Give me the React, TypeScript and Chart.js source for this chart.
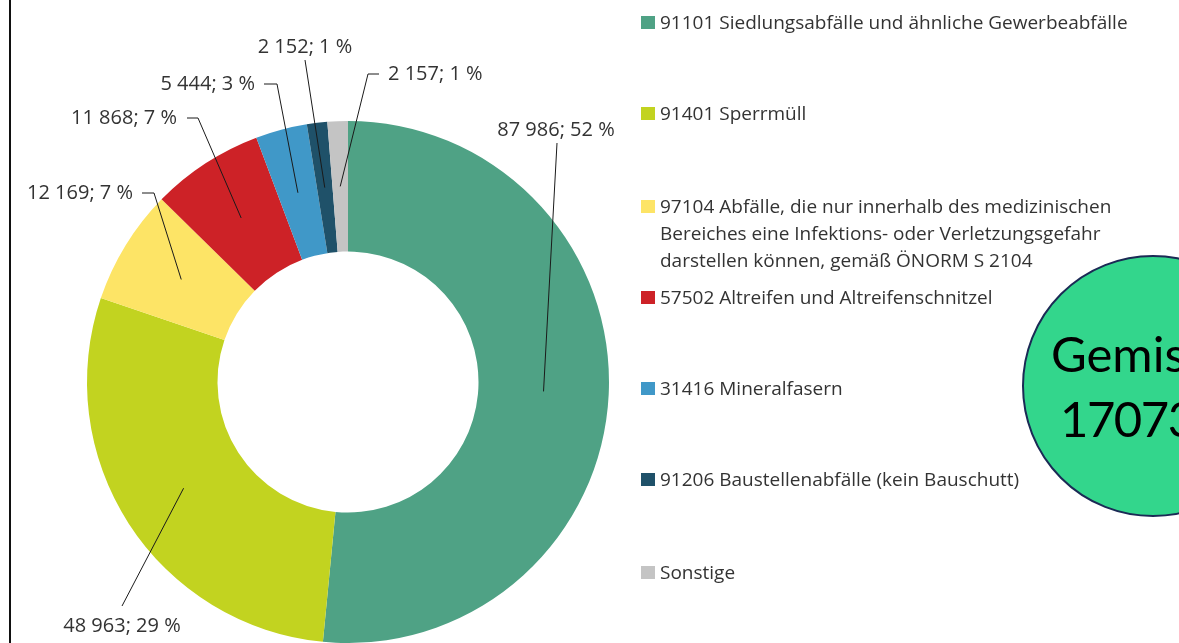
import React, { useEffect, useRef } from "react";
import { Chart, registerables } from "chart.js";

Chart.register(...registerables);

// ---- data ----
const legendLines: string[][] = [
  ["91101 Siedlungsabfälle und ähnliche Gewerbeabfälle"],
  ["91401 Sperrmüll"],
  [
    "97104 Abfälle, die nur innerhalb des medizinischen",
    "Bereiches eine Infektions- oder Verletzungsgefahr",
    "darstellen können, gemäß ÖNORM S 2104",
  ],
  ["57502 Altreifen und Altreifenschnitzel"],
  ["31416 Mineralfasern"],
  ["91206 Baustellenabfälle (kein Bauschutt)"],
  ["Sonstige"],
];
const categories = legendLines.map((l) => l.join(" "));
const values = [87986, 48963, 12169, 11868, 5444, 2152, 2157];
const colors = ["#4fa285", "#c2d320", "#fde466", "#cd2227", "#4098c8", "#1f5169", "#c4c4c4"];

const badgeLines = ["Gemisch", "170739"];

// ---- layout (label anchors & leader lines) ----
type LabelPos = { x: number; y: number; align: CanvasTextAlign; path: number[][] };
const labelLayout: LabelPos[] = [
  { x: 556, y: 130, align: "center", path: [[557, 143]] },
  { x: 122, y: 626, align: "center", path: [[122, 606]] },
  { x: 133, y: 193, align: "right", path: [[142, 193], [154, 193]] },
  { x: 177, y: 118, align: "right", path: [[187, 118], [198, 118]] },
  { x: 255, y: 84, align: "right", path: [[264, 84], [277, 84]] },
  { x: 305, y: 47, align: "center", path: [[305, 60]] },
  { x: 388, y: 74, align: "left", path: [[379, 74], [368, 74]] },
];
const legendY = [22, 113, 206, 297, 388, 479, 572];

const fmt = (v: number) => String(v).replace(/\B(?=(\d{3})+(?!\d))/g, " ");

const labelPlugin = {
  id: "leaderLabels",
  afterDatasetsDraw(chart: any) {
    const ctx = chart.ctx as CanvasRenderingContext2D;
    const meta = chart.getDatasetMeta(0);
    const data = chart.data.datasets[0].data as number[];
    const total = data.reduce((a, b) => a + b, 0);
    ctx.save();
    meta.data.forEach((arc: any, i: number) => {
      const lay = labelLayout[i];
      const p = arc.getCenterPoint();
      ctx.strokeStyle = "#1a1a1a";
      ctx.lineWidth = 1;
      ctx.beginPath();
      lay.path.forEach((pt, k) => {
        if (k === 0) ctx.moveTo(pt[0], pt[1]);
        else ctx.lineTo(pt[0], pt[1]);
      });
      ctx.lineTo(p.x, p.y);
      ctx.stroke();
      ctx.fillStyle = "#333333";
      ctx.font = "20px 'Open Sans'";
      ctx.textAlign = lay.align;
      ctx.textBaseline = "middle";
      const pct = Math.round((data[i] / total) * 100);
      ctx.fillText(`${fmt(data[i])}; ${pct} %`, lay.x, lay.y);
    });
    ctx.restore();
  },
};

export default function App() {
  const ref = useRef<HTMLCanvasElement>(null);
  useEffect(() => {
    if (!ref.current) return;
    const chart = new Chart(ref.current, {
      type: "doughnut",
      data: {
        labels: categories,
        datasets: [
          {
            data: values,
            backgroundColor: colors,
            borderWidth: 0,
          },
        ],
      },
      options: {
        animation: false,
        responsive: false,
        cutout: "50%",
        layout: { padding: { left: 86, top: 121, right: 569, bottom: 0 } },
        plugins: { legend: { display: false }, tooltip: { enabled: false } },
      },
      plugins: [labelPlugin],
    });
    return () => chart.destroy();
  }, []);

  return (
    <div
      style={{
        position: "fixed",
        left: 0,
        top: 0,
        width: 1179,
        height: 643,
        overflow: "hidden",
        background: "#ffffff",
      }}
    >
      <canvas
        ref={ref}
        width={1179}
        height={643}
        style={{ position: "absolute", left: 0, top: 0, width: 1179, height: 643 }}
      />
      <div style={{ position: "absolute", left: 9, top: 0, width: 2, height: 643, background: "#111" }} />
      {legendLines.map((lines, i) => (
        <div
          key={i}
          style={{
            position: "absolute",
            left: 641,
            top: legendY[i] - 13.5,
            fontFamily: "'Open Sans'",
            fontSize: 19,
            lineHeight: "27px",
            color: "#333",
            whiteSpace: "nowrap",
          }}
        >
          <span
            style={{
              position: "absolute",
              left: 0,
              top: 7,
              width: 14,
              height: 13,
              background: colors[i],
            }}
          />
          <div style={{ marginLeft: 19 }}>
            {lines.map((l, k) => (
              <div key={k}>{l}</div>
            ))}
          </div>
        </div>
      ))}
      <div
        style={{
          position: "absolute",
          left: 1022,
          top: 255,
          width: 262,
          height: 262,
          borderRadius: "50%",
          border: "2px solid #1b2a55",
          background: "#33d68c",
          boxSizing: "border-box",
        }}
      />
      <div
        style={{
          position: "absolute",
          left: 1051,
          top: 329,
          fontFamily: "Lato",
          fontSize: 49,
          lineHeight: "49px",
          color: "#000",
          whiteSpace: "nowrap",
        }}
      >
        {badgeLines[0]}
      </div>
      <div
        style={{
          position: "absolute",
          left: 1060,
          top: 394,
          fontFamily: "Lato",
          fontSize: 49,
          lineHeight: "49px",
          letterSpacing: "-1.5px",
          color: "#000",
          whiteSpace: "nowrap",
        }}
      >
        {badgeLines[1]}
      </div>
    </div>
  );
}
